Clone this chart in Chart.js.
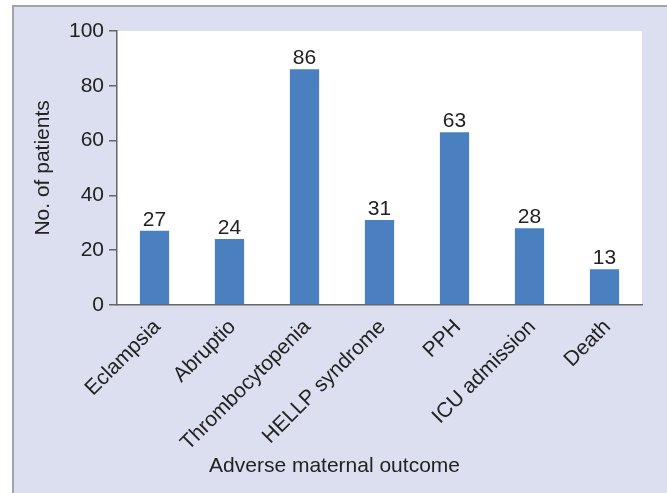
<!DOCTYPE html>
<html>
<head>
<meta charset="utf-8">
<script src="https://cdn.jsdelivr.net/npm/chart.js@4/dist/chart.umd.min.js"></script>
<style>
  html, body { margin: 0; padding: 0; background: #ffffff; }
  #panel {
    position: absolute; left: 12px; top: 5px; width: 660px; height: 500px;
    background: #dcdff0; border-left: 2px solid #a3a3a8; border-top: 2px solid #a3a3a8;
  }
  #wrap { position: absolute; left: 0; top: 0; width: 667px; height: 493px; }
</style>
</head>
<body>
<div id="panel"></div>
<div id="wrap"><canvas id="chart" width="667" height="493"></canvas></div>
<script>
const categories = ['Eclampsia', 'Abruptio', 'Thrombocytopenia', 'HELLP syndrome', 'PPH', 'ICU admission', 'Death'];
const patients = [27, 24, 86, 31, 63, 28, 13];
const yTicks = [0, 20, 40, 60, 80, 100];

const FONT = 'Liberation Sans, Arial, sans-serif';

// white plot area
const plotBg = {
    id: 'plotBg',
    beforeDraw(chart) {
        const a = chart.chartArea;
        chart.ctx.save();
        chart.ctx.fillStyle = '#ffffff';
        chart.ctx.fillRect(a.left, a.top, a.right - a.left, a.bottom - a.top);
        chart.ctx.restore();
    }
};

// numbers above bars
const valueLabels = {
    id: 'valueLabels',
    afterDatasetsDraw(chart) {
        const ctx = chart.ctx;
        ctx.save();
        ctx.font = '21px ' + FONT;
        ctx.fillStyle = '#222222';
        ctx.textAlign = 'center';
        ctx.textBaseline = 'alphabetic';
        chart.getDatasetMeta(0).data.forEach((bar, i) => {
            ctx.fillText(String(patients[i]), bar.x, bar.y - 5);
        });
        ctx.restore();
    }
};

new Chart(document.getElementById('chart'), {
    type: 'bar',
    data: {
        labels: categories,
        datasets: [{
            data: patients,
            backgroundColor: '#4a7fc0',
            categoryPercentage: 1,
            barPercentage: 0.39
        }]
    },
    options: {
        responsive: false,
        animation: false,
        layout: { padding: { left: 27, right: 25, top: 31, bottom: 14 } },
        plugins: {
            legend: { display: false },
            tooltip: { enabled: false },
            title: {
                display: true,
                position: 'bottom',
                text: 'Adverse maternal outcome',
                color: '#222222',
                font: { family: FONT, size: 21, weight: 'normal' },
                padding: { top: 0, bottom: 0 }
            }
        },
        scales: {
            x: {
                grid: { display: false },
                border: { display: true, color: '#666666', width: 1.5 },
                ticks: {
                    color: '#222222',
                    font: { family: FONT, size: 21 },
                    minRotation: 45,
                    maxRotation: 45,
                    labelOffset: 3,
                    padding: 2
                },
                afterFit(scale) { scale.height = 149; }
            },
            y: {
                min: 0,
                max: 100,
                afterBuildTicks(scale) { scale.ticks = yTicks.map(v => ({ value: v })); },
                grid: { drawOnChartArea: false, drawTicks: true, tickLength: 8, color: '#666666', lineWidth: 1.5 },
                border: { display: true, color: '#666666', width: 1.5 },
                ticks: {
                    color: '#222222',
                    font: { family: FONT, size: 21 },
                    padding: 5
                },
                title: {
                    display: true,
                    text: 'No. of patients',
                    color: '#222222',
                    font: { family: FONT, size: 21 },
                    padding: { top: 4, bottom: 4 }
                },
                afterFit(scale) { scale.width = 90; }
            }
        }
    },
    plugins: [plotBg, valueLabels]
});
</script>
</body>
</html>
